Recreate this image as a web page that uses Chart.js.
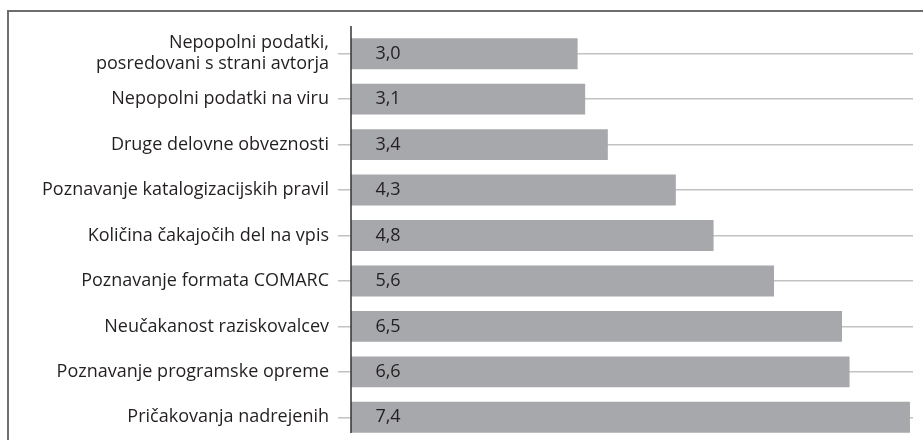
<!DOCTYPE html>
<html>
<head>
<meta charset="utf-8">
<script src="https://cdn.jsdelivr.net/npm/chart.js@4.4.1/dist/chart.umd.min.js"></script>
<style>
  html, body { margin: 0; padding: 0; background: #fff; }
  #wrap { position: relative; width: 923px; height: 440px; }
  #frame {
    position: absolute; left: 7px; top: 10px; right: -10px; bottom: -10px;
    border-top: 2px solid #6e6e6e; border-left: 2px solid #6e6e6e;
    pointer-events: none;
  }
</style>
</head>
<body>
<div id="wrap">
  <canvas id="chart" width="923" height="440"></canvas>
  <div id="frame"></div>
</div>
<script>
/* global document, Chart */
const categories = [
  ["Nepopolni podatki,", "posredovani s strani avtorja"],
  "Nepopolni podatki na viru",
  "Druge delovne obveznosti",
  "Poznavanje katalogizacijskih pravil",
  "Količina čakajočih del na vpis",
  "Poznavanje formata COMARC",
  "Neučakanost raziskovalcev",
  "Poznavanje programske opreme",
  "Pričakovanja nadrejenih"
];
const values = [3.0, 3.1, 3.4, 4.3, 4.8, 5.6, 6.5, 6.6, 7.4];

// Colors
const barGray = "#a7a8ab";
const gridGray = "#c2c2c2";
const textDark = "#231f20";
const fontFamily = "'Open Sans', 'Noto Sans', sans-serif";

Chart.defaults.font.family = fontFamily;
Chart.defaults.font.size = 18;
Chart.defaults.color = textDark;

// Value labels inside the bars + the vertical axis line (sits a bit higher than the bands)
const barDecor = {
  id: "barDecor",
  afterDatasetsDraw(chart) {
    const {ctx, chartArea} = chart;
    const meta = chart.getDatasetMeta(0);
    ctx.save();
    ctx.strokeStyle = "#333";
    ctx.lineWidth = 1.5;
    ctx.beginPath();
    ctx.moveTo(chartArea.left, chartArea.top - 5);
    ctx.lineTo(chartArea.left, chartArea.bottom - 7);
    ctx.stroke();

    ctx.font = "18px " + fontFamily;
    ctx.fillStyle = textDark;
    ctx.textAlign = "center";
    ctx.textBaseline = "middle";
    meta.data.forEach((bar, i) => {
      ctx.fillText(values[i].toFixed(1).replace(".", ","), chartArea.left + 37, bar.y);
    });
    ctx.restore();
  }
};

new Chart(document.getElementById("chart"), {
  type: "bar",
  data: {
    labels: categories,
    datasets: [{
      data: values,
      backgroundColor: barGray,
      borderWidth: 0,
      barPercentage: 0.68,
      categoryPercentage: 1
    }]
  },
  options: {
    indexAxis: "y",
    responsive: false,
    animation: false,
    layout: {padding: {top: 31, right: 10, bottom: 0, left: 0}},
    plugins: {
      legend: {display: false},
      tooltip: {enabled: false}
    },
    scales: {
      x: {
        display: false,
        min: 0,
        max: 7.44
      },
      y: {
        afterFit: scale => {
          scale.width = 351;
          scale.paddingTop = 0;
          scale.paddingBottom = 0;
        },
        grid: {
          offset: false,
          color: gridGray,
          lineWidth: 1.5,
          tickLength: 13,
          tickColor: gridGray
        },
        border: {display: false},
        ticks: {
          padding: 9,
          font: {size: 18, lineHeight: 1.15}
        }
      }
    }
  },
  plugins: [barDecor]
});
</script>
</body>
</html>
